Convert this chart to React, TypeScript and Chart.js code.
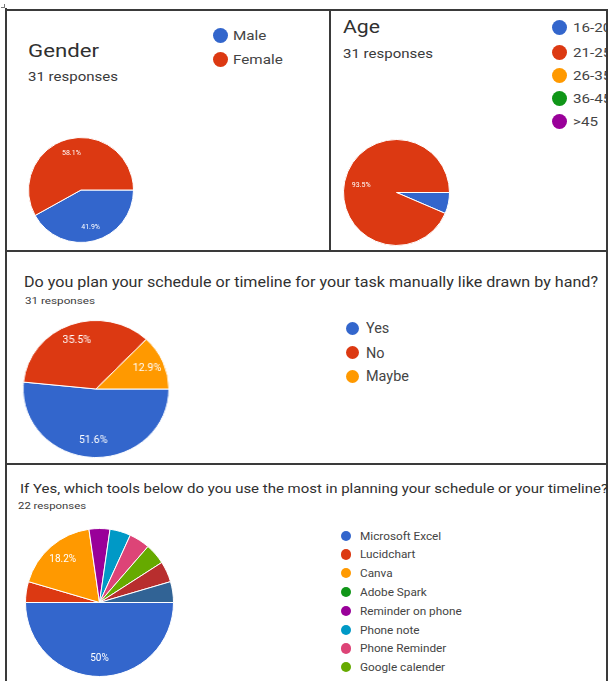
import React, { useEffect, useLayoutEffect, useRef } from "react";
import { Chart, registerables } from "chart.js";
Chart.register(...registerables);

const PALETTE = ["#3366cc", "#dc3912", "#ff9900", "#109618", "#990099", "#0099c6", "#dd4477", "#66aa00", "#b82e2e", "#316395"];

const genderLabels = ["Male", "Female"];
const genderValues = [13, 18];

const ageLabels = ["16-20", "21-25", "26-35", "36-45", ">45"];
const ageValues = [2, 29, 0, 0, 0];

const manualLabels = ["Yes", "No", "Maybe"];
const manualValues = [16, 11, 4];

const toolLabels = ["Microsoft Excel", "Lucidchart", "Canva", "Adobe Spark", "Reminder on phone", "Phone note", "Phone Reminder", "Google calender", "Other (9)", "Other (10)"];
const toolValues = [11, 1, 4, 0, 1, 1, 1, 1, 1, 1];
const toolLegendShown = 8;

const FONT = "Roboto, 'Noto Sans', Arial, sans-serif";

const pctLabelPlugin = {
  id: "pctLabels",
  afterDatasetsDraw(chart: any, _args: any, opts: any) {
    const ctx = chart.ctx;
    const meta = chart.getDatasetMeta(0);
    const data = chart.data.datasets[0].data as number[];
    const total = data.reduce((a, b) => a + b, 0);
    ctx.save();
    ctx.fillStyle = "#ffffff";
    ctx.font = `${opts.size}px ${FONT}`;
    ctx.textAlign = "center";
    ctx.textBaseline = "middle";
    meta.data.forEach((arc: any, i: number) => {
      const v = data[i];
      if (!v || v / total < opts.min) return;
      const p = arc.getProps(["x", "y", "startAngle", "endAngle", "outerRadius"], true);
      const mid = (p.startAngle + p.endAngle) / 2;
      const r = p.outerRadius * opts.factor;
      const pct = Math.round((v / total) * 1000) / 10;
      ctx.fillText(`${pct}%`, p.x + Math.cos(mid) * r, p.y + Math.sin(mid) * r);
    });
    ctx.restore();
  },
};

function Pie(props: { labels: string[]; values: number[]; left: number; top: number; size: number; sx?: number; labelSize: number; factor?: number }) {
  const ref = useRef<HTMLCanvasElement>(null);
  useEffect(() => {
    const chart = new Chart(ref.current!, {
      type: "pie",
      data: {
        labels: props.labels,
        datasets: [{ data: props.values, backgroundColor: PALETTE.slice(0, props.values.length), borderColor: "#ffffff", borderWidth: 1 }],
      },
      options: {
        responsive: false,
        animation: false,
        rotation: 90,
        layout: { padding: 0 },
        plugins: {
          legend: { display: false },
          tooltip: { enabled: false },
          pctLabels: { size: props.labelSize, factor: props.factor ?? 0.74, min: 0.1 },
        } as any,
      },
      plugins: [pctLabelPlugin as any],
    });
    return () => chart.destroy();
  }, []);
  return (
    <div style={{ position: "absolute", left: props.left, top: props.top, width: props.size, height: props.size, transform: `scaleX(${props.sx ?? 1})`, transformOrigin: "center" }}>
      <canvas ref={ref} width={props.size} height={props.size} style={{ display: "block" }} />
    </div>
  );
}

function Txt(props: { x: number; base: number; size: number; text: string; width?: number; sx?: number; color?: string }) {
  const ref = useRef<HTMLSpanElement>(null);
  useLayoutEffect(() => {
    const el = ref.current;
    if (!el) return;
    if (props.width) {
      el.style.transform = "none";
      const w = el.getBoundingClientRect().width;
      if (w > 0) el.style.transform = `scaleX(${props.width / w})`;
    } else {
      el.style.transform = `scaleX(${props.sx ?? 1})`;
    }
  }, [props.text, props.width, props.sx, props.size]);
  return (
    <span
      ref={ref}
      style={{
        position: "absolute",
        left: props.x,
        top: props.base - 0.842 * props.size,
        fontSize: props.size,
        lineHeight: `${props.size}px`,
        whiteSpace: "nowrap",
        transformOrigin: "left center",
        color: props.color ?? "#333333",
        fontFamily: FONT,
      }}
    >
      {props.text}
    </span>
  );
}

function Dot(props: { cx: number; cy: number; d: number; color: string }) {
  return <div style={{ position: "absolute", left: props.cx - props.d / 2, top: props.cy - props.d / 2, width: props.d, height: props.d, borderRadius: "50%", background: props.color }} />;
}

function Line(props: { x: number; y: number; w: number; h: number }) {
  return <div style={{ position: "absolute", left: props.x, top: props.y, width: props.w, height: props.h, background: "#3a3a3a" }} />;
}

const genderLegendY = [35, 59];
const ageLegendY = [27, 52, 75, 98, 121];
const manualLegendY = [328, 352.5, 376];
const toolLegendY = [536, 554.5, 573, 592, 611, 630, 648.5, 667];

export default function App() {
  return (
    <div style={{ position: "fixed", left: 0, top: 0, width: 610, height: 681, background: "#ffffff", overflow: "hidden", fontFamily: FONT }}>
      {/* frame */}
      <Line x={5} y={9} w={603} h={2} />
      <Line x={5} y={8} w={2} h={673} />
      <Line x={329} y={10} w={2} h={241} />
      <Line x={606} y={9} w={2} h={672} />
      <Line x={6} y={250} w={601} h={2} />
      <Line x={6} y={463} w={601} h={2} />
      <div style={{ position: "absolute", left: 1, top: 7, width: 4, height: 1, background: "#777" }} />
      <div style={{ position: "absolute", left: 4, top: 4, width: 1, height: 4, background: "#777" }} />

      {/* Gender */}
      <Txt x={28} base={58} size={18.5} text="Gender" width={71} color="#303030" />
      <Txt x={28} base={82} size={12.5} text="31 responses" width={90} color="#3a3a3a" />
      {genderLabels.map((l, i) => (
        <React.Fragment key={l}>
          <Dot cx={220} cy={genderLegendY[i]} d={15} color={PALETTE[i]} />
          <Txt x={233} base={genderLegendY[i] + 4.6} size={13} text={l} sx={1.17} color="#444444" />
        </React.Fragment>
      ))}
      <Pie labels={genderLabels} values={genderValues} left={28} top={137} size={106} labelSize={7} factor={0.73} />

      {/* Age */}
      <div style={{ position: "absolute", left: 331, top: 11, width: 275, height: 239, overflow: "hidden" }}>
        <div style={{ position: "absolute", left: -331, top: -11, width: 610, height: 681 }}>
          <Txt x={343} base={34} size={18.5} text="Age" width={37} color="#303030" />
          <Txt x={343} base={58.3} size={12.5} text="31 responses" width={90} color="#3a3a3a" />
          {ageLabels.map((l, i) => (
            <React.Fragment key={l}>
              <Dot cx={559} cy={ageLegendY[i]} d={15} color={PALETTE[i]} />
              <Txt x={573} base={ageLegendY[i] + 4.6} size={13} text={l} sx={1.17} color="#444444" />
            </React.Fragment>
          ))}
          <Pie labels={ageLabels} values={ageValues} left={343} top={139} size={107} labelSize={7} factor={0.68} />
        </div>
      </div>

      {/* Manual planning */}
      <Txt x={24} base={287} size={14} text="Do you plan your schedule or timeline for your task manually like drawn by hand?" width={574} color="#303030" />
      <Txt x={25} base={305} size={9} text="31 responses" width={70} color="#3a3a3a" />
      {manualLabels.map((l, i) => (
        <React.Fragment key={l}>
          <Dot cx={352} cy={manualLegendY[i]} d={13} color={PALETTE[i]} />
          <Txt x={366} base={manualLegendY[i] + 5} size={14} text={l} sx={1.03} color="#444444" />
        </React.Fragment>
      ))}
      <Pie labels={manualLabels} values={manualValues} left={27} top={320} size={138} sx={1.065} labelSize={10} factor={0.76} />

      {/* Tools */}
      <Txt x={19.5} base={493} size={13.5} text="If Yes, which tools below do you use the most in planning your schedule or your timeline?" width={588} color="#303030" />
      <Txt x={18} base={510} size={9} text="22 responses" width={68} color="#3a3a3a" />
      {toolLabels.slice(0, toolLegendShown).map((l, i) => (
        <React.Fragment key={l}>
          <Dot cx={346} cy={toolLegendY[i]} d={10.5} color={PALETTE[i]} />
          <Txt x={360} base={toolLegendY[i] + 3.9} size={11} text={l} sx={1.07} color="#444444" />
        </React.Fragment>
      ))}
      <Pie labels={toolLabels} values={toolValues} left={25} top={528} size={149} labelSize={10} factor={0.76} />
    </div>
  );
}
